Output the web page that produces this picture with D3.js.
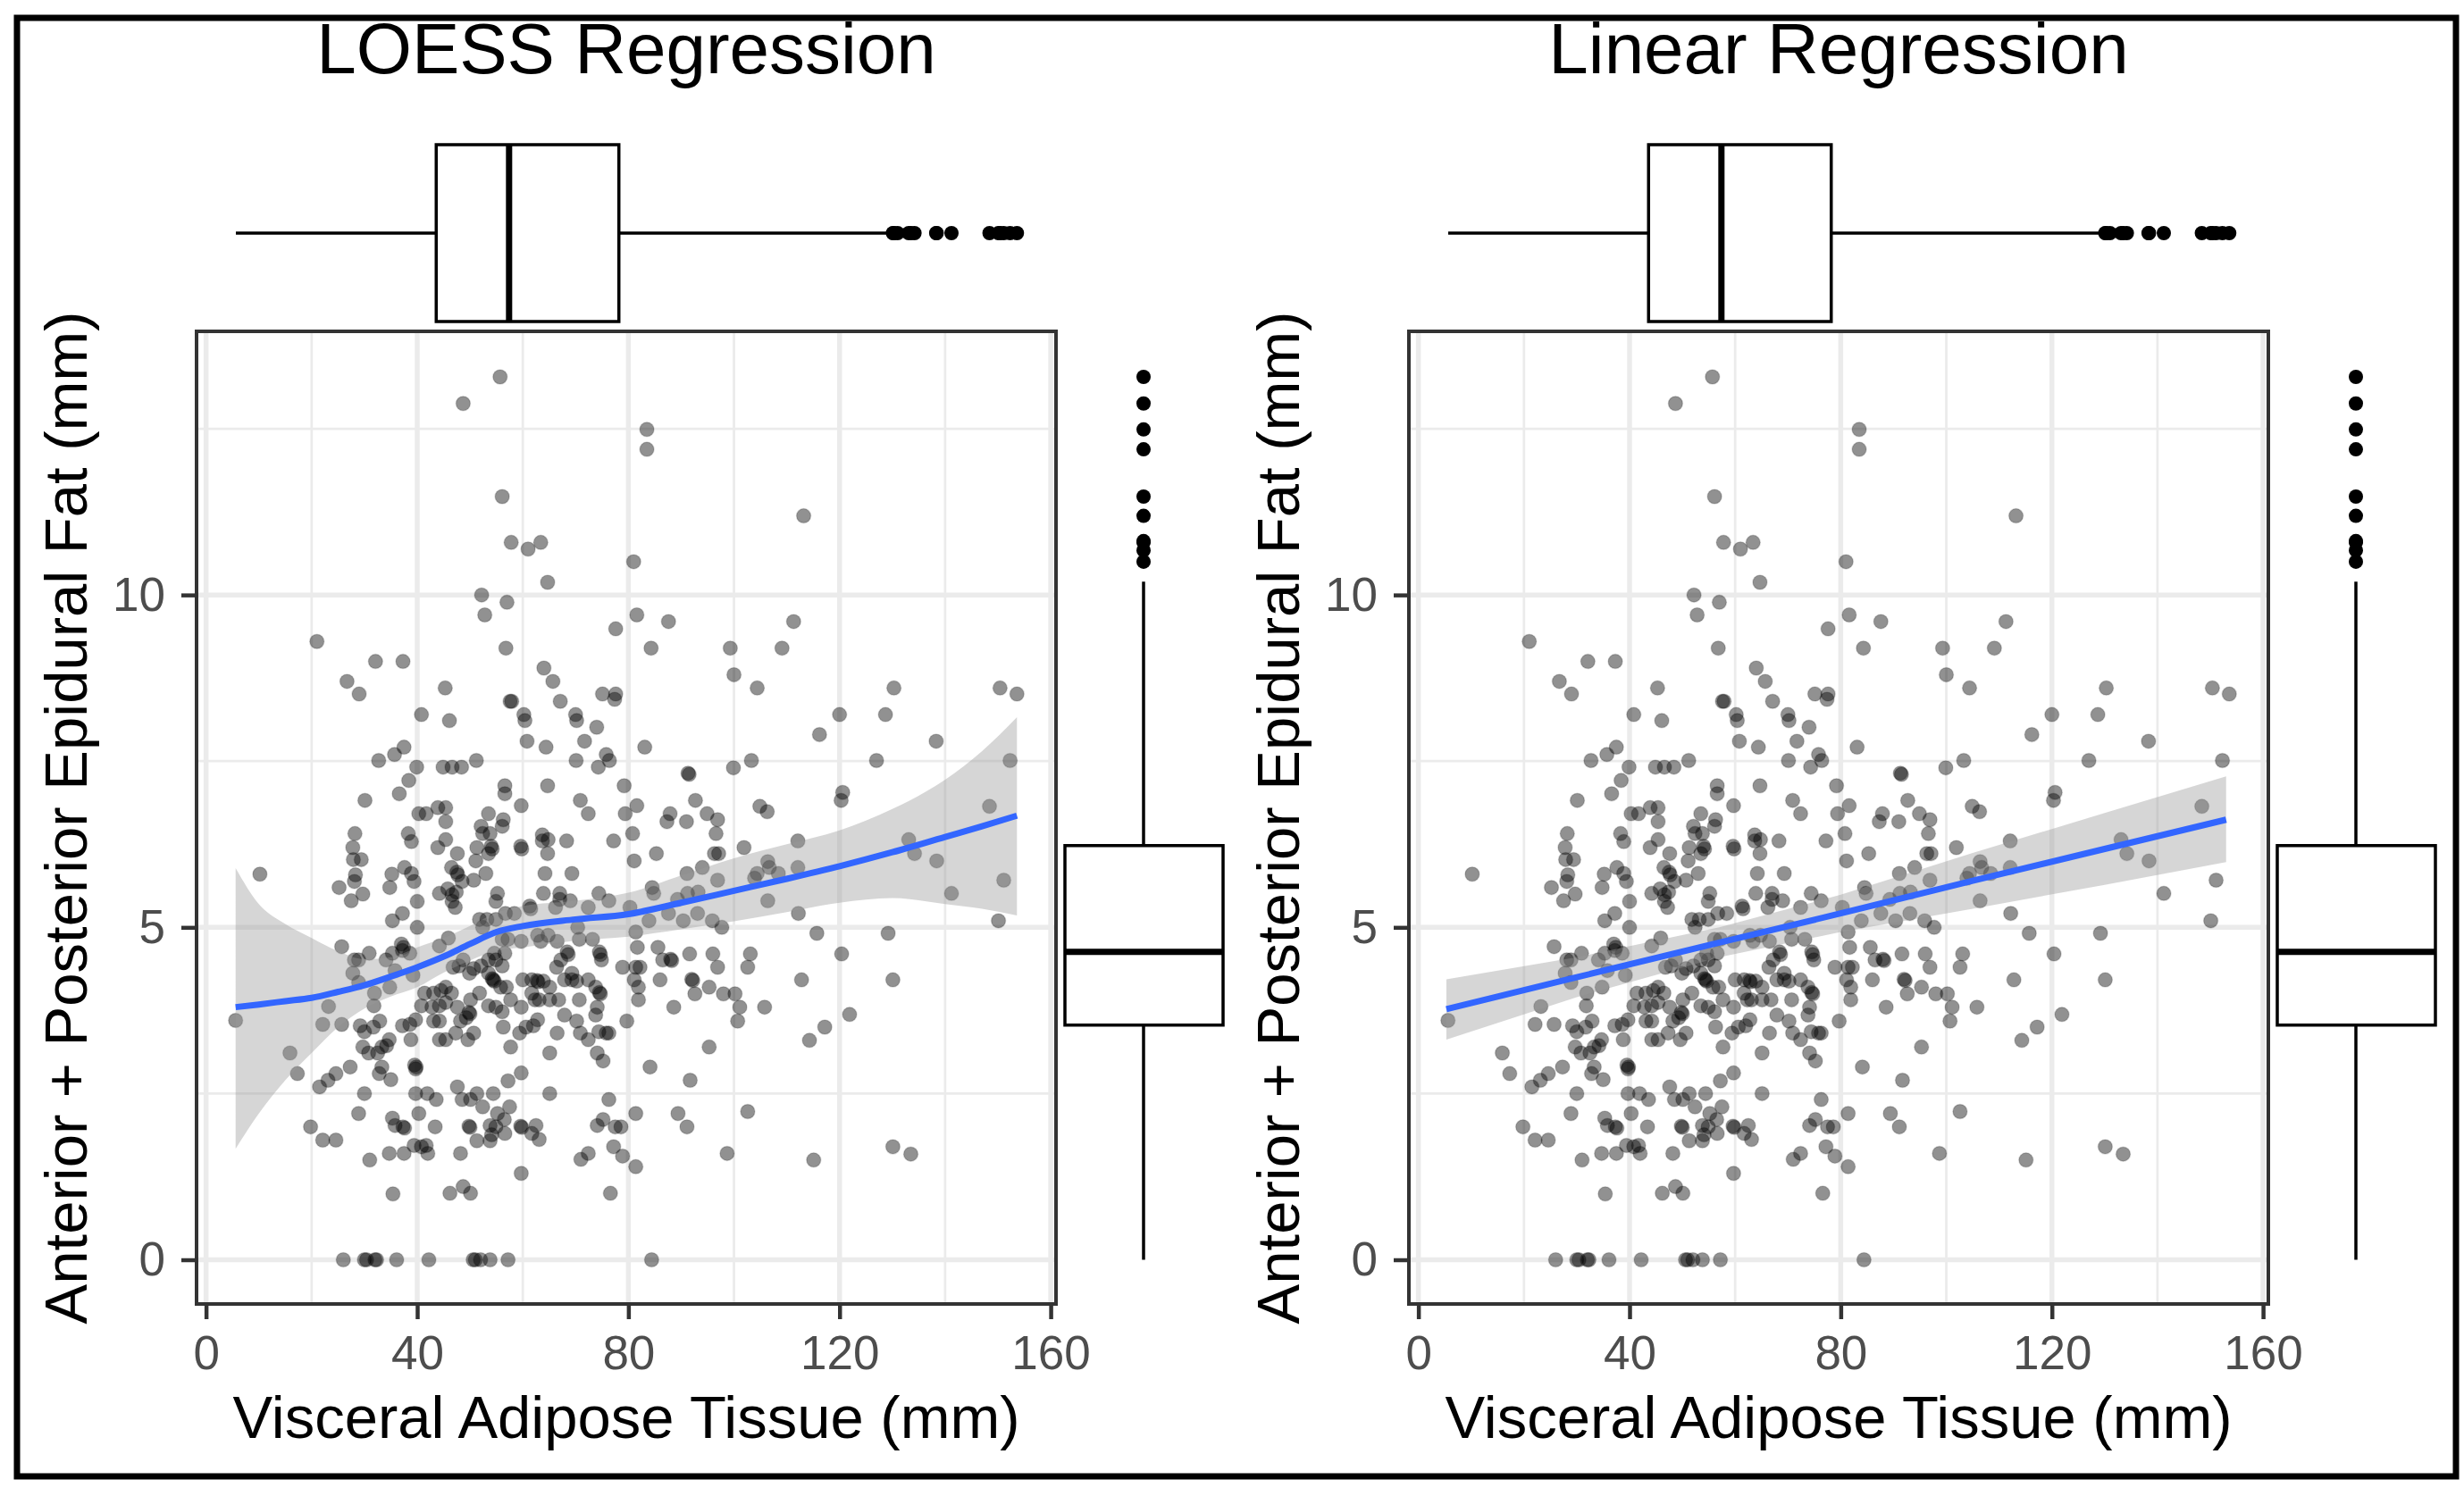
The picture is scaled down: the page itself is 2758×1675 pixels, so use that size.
<!DOCTYPE html>
<html>
<head>
<meta charset="utf-8">
<script src="https://d3js.org/d3.v7.min.js"></script>
<style>
  body { margin: 0; background: #fff; }
  text { font-family: "Liberation Sans", Arial, sans-serif; }
</style>
</head>
<body>
<div id="chart-area"></div>
<script>
// [visceral adipose tissue, epidural fat]
var points = [
  [55.7,13.28],[48.7,12.88],[56.1,11.48],[57.8,10.79],[61.0,10.69],[63.4,10.79],[64.7,10.19],[52.2,10.0],
  [57.0,9.89],[52.8,9.70],[77.6,9.49],[21.0,9.30],[56.8,9.20],[32.1,9.00],[37.3,9.00],[64.0,8.90],
  [26.7,8.70],[65.7,8.70],[29.0,8.51],[75.1,8.51],[77.6,8.51],[77.4,8.43],[45.3,8.60],[57.6,8.40],
  [57.9,8.40],[67.1,8.40],[40.8,8.20],[46.1,8.11],[60.2,8.20],[60.4,8.11],[70.0,8.20],[70.2,8.11],
  [74.0,8.01],[60.8,7.80],[71.7,7.80],[64.4,7.71],[37.5,7.71],[35.7,7.60],[32.7,7.51],[39.9,7.41],
  [44.9,7.41],[46.6,7.41],[48.4,7.41],[51.2,7.51],[70.1,7.51],[74.3,7.41],[75.8,7.60],[76.4,7.51],
  [38.4,7.21],[36.6,7.01],[30.1,6.91],[56.6,7.13],[56.6,7.01],[64.7,7.13],[79.2,7.13],[70.9,6.91],
  [59.7,6.83],[81.6,6.83],[81.0,10.50],[81.6,9.70],
  [83.5,12.49],[83.5,12.19],[113.2,11.19],[87.6,9.60],[84.3,9.20],[99.3,9.20],[109.1,9.20],[111.3,9.60],
  [100.0,8.80],[104.4,8.60],[130.3,8.60],[150.4,8.60],[153.6,8.51],[120.0,8.20],[128.7,8.20],[116.2,7.90],
  [138.3,7.80],[83.1,7.71],[91.3,7.32],[91.5,7.30],[99.9,7.40],[103.3,7.51],[127.0,7.51],[152.3,7.51],
  [92.7,6.91],[120.6,7.03],[120.3,6.91],[104.9,6.82],[106.3,6.74],[148.4,6.82],
  [28.2,6.41],[27.8,6.20],[27.9,6.02],[29.4,6.02],[28.3,5.79],[28.1,5.69],[25.2,5.60],[29.7,5.50],
  [27.5,5.40],[10.2,5.80],[35.2,5.80],[34.8,5.60],[38.3,6.41],[38.9,6.29],[37.6,5.90],[38.9,5.81],
  [39.4,5.69],[40.0,5.39],[37.2,5.21],[35.3,5.10],[40.0,5.0],
  [25.7,4.71],[30.9,4.61],[28.1,4.51],[28.9,4.51],[27.8,4.31],[34.1,4.51],[35.3,4.61],[37.0,4.75],
  [37.4,4.70],[37.2,4.65],[38.6,4.61],[35.8,4.35],[34.8,4.10],[28.9,4.17],[31.9,4.01],[31.8,3.82],
  [23.2,3.81],[5.6,3.60],[22.1,3.54],[25.7,3.54],[29.2,3.52],[30.0,3.43],[31.7,3.50],[32.9,3.59],
  [37.2,3.52],[38.6,3.54],[39.7,3.61],[38.8,3.31],[34.7,3.31],[34.2,3.22],[29.7,3.20],[30.8,3.11],
  [32.5,3.11],[33.3,3.20],[15.9,3.11],[17.3,2.80],[27.3,2.90],[24.6,2.80],[23.1,2.70],[21.5,2.60],
  [33.3,2.90],[32.8,2.80],[35.0,2.71],[39.5,2.93],[39.8,2.90],[39.7,2.87],[30.0,2.50],[39.7,2.50],
  [28.9,2.20],[40.3,2.20],[19.8,2.0],[35.3,2.13],[35.8,2.02],[37.3,2.0],[37.6,1.98],[22.1,1.80],
  [24.6,1.80],[31.0,1.50],[34.7,1.60],[37.5,1.60],[39.4,1.72],[40.8,1.70],[35.4,0.99],
  [40.3,6.71],[41.7,6.71],[43.9,6.80],[45.4,6.80],[45.4,6.59],[53.5,6.71],[52.1,6.52],[56.3,6.62],
  [56.1,6.52],[72.4,6.71],[79.4,6.71],
  [43.9,6.20],[45.4,6.32],[47.6,6.11],[51.3,6.20],[52.4,6.41],[53.8,6.41],[54.0,6.22],[54.2,6.18],
  [53.5,6.11],[51.1,6.00],[59.6,6.22],[59.8,6.18],[63.7,6.39],[64.8,6.32],[63.7,6.30],[64.7,6.11],
  [68.3,6.30],[77.2,6.30],[80.8,6.41],[81.1,6.00],
  [46.5,5.90],[47.5,5.83],[47.7,5.79],[48.5,5.69],[50.7,5.71],[53.0,5.81],[64.2,5.81],[69.3,5.81],
  [44.2,5.51],[45.8,5.58],[46.6,5.49],[47.4,5.53],[46.6,5.39],[47.2,5.30],[55.2,5.51],[54.9,5.39],
  [63.9,5.51],[67.0,5.51],[67.0,5.42],[69.0,5.40],[74.4,5.51],[76.3,5.40],[61.3,5.32],[61.5,5.28],
  [66.2,5.30],[72.4,5.30],[80.3,5.30],
  [51.8,5.12],[53.2,5.12],[54.9,5.12],[56.7,5.21],[58.4,5.21],[52.4,5.00],[70.4,5.00],[81.4,4.93],
  [45.9,4.84],[44.2,4.72],[56.1,4.82],[57.2,4.82],[59.7,4.79],[62.8,4.88],[63.4,4.79],[64.8,4.88],
  [66.5,4.79],[70.7,4.82],[73.2,4.82],
  [54.6,4.61],[53.5,4.51],[54.9,4.51],[56.6,4.61],[68.4,4.63],[68.6,4.59],[74.5,4.63],[74.7,4.59],
  [67.2,4.51],[66.4,4.40],[78.9,4.40],[81.4,4.40],
  [46.8,4.40],[47.9,4.42],[48.7,4.51],[49.9,4.31],[50.7,4.38],[39.2,4.28],[52.1,4.42],[53.5,4.31],
  [56.1,4.42],[69.3,4.31],[74.9,4.51],
  [54.2,4.23],[54.4,4.21],[54.6,4.19],[55.8,4.10],[56.9,4.10],[60.0,4.21],[61.7,4.21],[62.7,4.20],
  [62.9,4.18],[63.9,4.19],[65.1,4.10],[67.9,4.21],[69.3,4.21],[70.2,4.19],[72.4,4.21],[73.8,4.10],
  [74.5,4.02],[74.7,4.00],[81.1,4.21],[81.9,4.10],
  [41.4,4.01],[43.1,4.01],[44.5,4.05],[45.4,4.10],[46.5,4.01],[40.8,3.82],[42.8,3.80],[44.2,3.82],
  [45.4,3.87],[47.6,3.80],[50.1,3.91],[51.8,4.01],
  [57.7,3.91],[59.7,3.80],[61.7,4.01],[62.3,3.91],[63.1,3.91],[65.1,3.91],[66.8,3.91],[70.7,3.91],
  [53.5,3.82],[54.9,3.80],[56.1,3.73],[74.1,3.80],[73.8,3.68],[81.9,3.91],
  [49.8,3.72],[50.0,3.70],[43.1,3.59],[44.2,3.59],[48.2,3.59],[49.3,3.64],[67.9,3.68],[70.2,3.59],
  [79.7,3.59],
  [56.3,3.50],[59.4,3.41],[60.6,3.50],[62.0,3.52],[62.8,3.61],[44.2,3.31],[45.4,3.31],[47.3,3.41],
  [49.6,3.31],[50.7,3.41],[57.7,3.20],[66.5,3.41],[70.9,3.41],[72.4,3.31],[74.4,3.43],[75.8,3.41],
  [76.3,3.41],
  [65.1,3.11],[74.1,3.11],[75.2,2.99],[57.2,2.69],[59.7,2.81],[47.6,2.60],[41.9,2.50],[43.6,2.41],
  [48.5,2.41],[50.1,2.41],[51.3,2.50],[52.4,2.30],[54.4,2.50],[65.1,2.50],[76.3,2.41],
  [55.2,2.20],[56.5,2.11],[57.5,2.30],[43.4,2.00],[49.8,2.01],[50.0,1.99],[53.8,2.02],[54.9,2.00],
  [54.1,1.88],[56.6,1.90],[59.6,2.01],[59.8,1.99],[62.5,2.02],[61.7,1.90],[63.1,1.81],[74.1,2.02],
  [75.2,2.11],[77.5,2.00],[78.6,2.00],[81.4,2.20],
  [51.3,1.79],[53.8,1.79],[41.7,1.72],[42.0,1.60],[48.2,1.60],[71.0,1.51],[72.4,1.60],[77.2,1.70],
  [78.9,1.56],[81.4,1.40],[59.7,1.30],[46.2,1.00],[48.7,1.10],[50.1,1.00],[76.6,1.00],
  [87.9,6.71],[87.3,6.59],[91.0,6.59],[94.9,6.71],[96.9,6.62],[96.6,6.41],[85.3,6.11],[96.3,6.11],
  [97.1,6.11],[101.9,6.20],[112.1,6.30],[94.0,5.90],[91.1,5.81],[106.4,5.99],[106.7,5.90],[104.4,5.81],
  [103.9,5.74],[108.4,5.81],[112.1,5.90],[133.1,6.32],[134.2,6.11],[138.4,6.0],[151.1,5.71],[141.2,5.51],
  [96.9,5.71],[84.5,5.60],[84.8,5.51],[89.3,5.42],[91.2,5.51],[93.2,5.53],[106.4,5.40],[87.6,5.21],
  [93.1,5.21],[83.9,5.10],[90.4,5.10],[95.9,5.10],[112.2,5.21],[150.1,5.10],[97.7,5.00],[115.7,4.91],
  [129.2,4.91],[81.7,4.70],[85.6,4.70],[91.6,4.60],[96.0,4.60],[103.1,4.60],[120.4,4.60],[86.5,4.51],
  [88.0,4.52],[88.2,4.50],[82.2,4.40],[96.9,4.40],[102.6,4.40],[86.0,4.21],[92.0,4.22],[92.2,4.20],
  [112.8,4.21],[130.1,4.21],[95.3,4.10],[92.6,4.00],[98.0,4.00],[100.2,4.00],[88.6,3.80],[101.1,3.80],
  [105.8,3.80],[121.9,3.69],[100.7,3.59],[117.2,3.50],[114.3,3.30],[95.3,3.20],[84.1,2.90],[91.7,2.70],
  [89.4,2.20],[91.1,2.00],[102.6,2.23],[98.7,1.60],[115.1,1.50],[130.1,1.70],[133.5,1.59],
  [26.0,0],[30.0,0],[30.4,0],[32.0,0],[32.3,0],[36.1,0],[42.2,0],[50.6,0],[51.0,0],[52.0,0],
  [53.8,0],[57.2,0],[84.4,0]
];

// marginal boxplots: [lower whisker, Q1, median, Q3, upper whisker]
var vatStats = [5.65, 43.6, 57.4, 78.2, 129.4];
var vatOutliers = [130.1, 130.3, 131.0, 133.1, 133.5, 134.2, 138.3, 138.4, 141.2, 148.4, 150.1, 150.4, 151.1, 152.3, 153.6];
var fatStats = [0, 3.53, 4.63, 6.23, 10.2];
var fatOutliers = [10.5, 10.67, 10.79, 10.81, 11.19, 11.48, 12.19, 12.49, 12.88, 13.28];

// smoother fits
var loessX   = [5.6, 10, 15, 20, 25, 30, 35, 40, 45, 50, 55, 60, 70, 80, 90, 100, 110, 120, 130, 140, 147, 153.6];
var loessFit = [3.80, 3.84, 3.89, 3.94, 4.03, 4.13, 4.26, 4.40, 4.56, 4.75, 4.93, 5.02, 5.12, 5.20, 5.37, 5.55, 5.73, 5.92, 6.13, 6.36, 6.52, 6.68];
var loessLo  = [1.67, 2.20, 2.70, 3.11, 3.50, 3.78, 3.96, 4.10, 4.32, 4.50, 4.65, 4.70, 4.80, 4.86, 4.97, 5.09, 5.23, 5.37, 5.44, 5.35, 5.28, 5.18];
var loessHi  = [5.89, 5.35, 5.05, 4.84, 4.64, 4.52, 4.55, 4.70, 4.84, 5.02, 5.22, 5.32, 5.40, 5.52, 5.78, 6.04, 6.25, 6.46, 6.78, 7.22, 7.65, 8.16];

var linX   = [5.3, 30, 57, 80, 105, 130, 153];
var linFit = [3.77, 4.25, 4.77, 5.21, 5.70, 6.18, 6.62];
var linLo  = [3.31, 3.95, 4.55, 4.93, 5.28, 5.64, 5.98];
var linHi  = [4.22, 4.55, 5.00, 5.49, 6.12, 6.72, 7.27];

var xTicks = [0, 40, 80, 120, 160];
var xMinor = [20, 60, 100, 140];
var yTicks = [0, 5, 10];
var yMinor = [2.5, 7.5, 12.5];

var titles = ["LOESS Regression", "Linear Regression"];
var xTitle = "Visceral Adipose Tissue (mm)";
var yTitle = "Anterior + Posterior Epidural Fat (mm)";

var svg = d3.select("#chart-area")
    .append("svg")
        .attr("width", 2758)
        .attr("height", 1675);

svg.append("rect")
    .attr("x", 19).attr("y", 20)
    .attr("width", 2730).attr("height", 1633)
    .attr("fill", "none")
    .attr("stroke", "black")
    .attr("stroke-width", 7);

var panels = [
    { title: titles[0], dx: 0,    fx: loessX, fit: loessFit, lo: loessLo, hi: loessHi, curve: d3.curveMonotoneX },
    { title: titles[1], dx: 1357, fx: linX,   fit: linFit,   lo: linLo,   hi: linHi,   curve: d3.curveLinear }
];

var pLeft = 220, pRight = 1182, pTop = 371, pBottom = 1460;

panels.forEach(function(p) {
    var g = svg.append("g")
        .attr("transform", "translate(" + p.dx + ", 0)");

    var xScale = d3.scaleLinear().domain([-1.8, 161]).range([pLeft, pRight]);
    var yScale = d3.scaleLinear().domain([-0.665, 13.965]).range([pBottom, pTop]);

    // grid
    g.selectAll(".xminor").data(xMinor).enter().append("line")
        .attr("x1", function(d) { return xScale(d); }).attr("x2", function(d) { return xScale(d); })
        .attr("y1", pTop).attr("y2", pBottom)
        .attr("stroke", "#ebebeb").attr("stroke-width", 2.75);
    g.selectAll(".yminor").data(yMinor).enter().append("line")
        .attr("y1", function(d) { return yScale(d); }).attr("y2", function(d) { return yScale(d); })
        .attr("x1", pLeft).attr("x2", pRight)
        .attr("stroke", "#ebebeb").attr("stroke-width", 2.75);
    g.selectAll(".xmajor").data(xTicks).enter().append("line")
        .attr("x1", function(d) { return xScale(d); }).attr("x2", function(d) { return xScale(d); })
        .attr("y1", pTop).attr("y2", pBottom)
        .attr("stroke", "#ebebeb").attr("stroke-width", 5.5);
    g.selectAll(".ymajor").data(yTicks).enter().append("line")
        .attr("y1", function(d) { return yScale(d); }).attr("y2", function(d) { return yScale(d); })
        .attr("x1", pLeft).attr("x2", pRight)
        .attr("stroke", "#ebebeb").attr("stroke-width", 5.5);

    // points
    g.selectAll(".pt").data(points).enter().append("circle")
        .attr("cx", function(d) { return xScale(d[0]); })
        .attr("cy", function(d) { return yScale(d[1]); })
        .attr("r", 8)
        .attr("fill", "black")
        .attr("fill-opacity", 0.43)
        .attr("stroke", "black")
        .attr("stroke-opacity", 0.15)
        .attr("stroke-width", 1.5);

    // confidence band + fitted line
    var band = d3.area()
        .x(function(d, i) { return xScale(p.fx[i]); })
        .y0(function(d, i) { return yScale(p.lo[i]); })
        .y1(function(d, i) { return yScale(p.hi[i]); })
        .curve(p.curve);
    g.append("path")
        .attr("d", band(p.fx))
        .attr("fill", "#999999")
        .attr("fill-opacity", 0.4);

    var line = d3.line()
        .x(function(d, i) { return xScale(p.fx[i]); })
        .y(function(d, i) { return yScale(p.fit[i]); })
        .curve(p.curve);
    g.append("path")
        .attr("d", line(p.fx))
        .attr("fill", "none")
        .attr("stroke", "#3366FF")
        .attr("stroke-width", 7);

    // panel border
    g.append("rect")
        .attr("x", pLeft).attr("y", pTop)
        .attr("width", pRight - pLeft).attr("height", pBottom - pTop)
        .attr("fill", "none").attr("stroke", "#333333").attr("stroke-width", 4);

    // axes
    var xAxis = g.append("g")
        .attr("transform", "translate(0, " + pBottom + ")")
        .call(d3.axisBottom(xScale).tickValues(xTicks).tickSize(17).tickPadding(18));
    var yAxis = g.append("g")
        .attr("transform", "translate(" + pLeft + ", 0)")
        .call(d3.axisLeft(yScale).tickValues(yTicks).tickSize(17).tickPadding(18));
    [xAxis, yAxis].forEach(function(a) {
        a.select(".domain").remove();
        a.selectAll("line").attr("stroke", "#333333").attr("stroke-width", 4.5);
        a.selectAll("text")
            .attr("font-size", "53px")
            .attr("font-family", "Liberation Sans, Arial, sans-serif")
            .attr("fill", "#4d4d4d");
    });

    g.append("text")
        .attr("x", (pLeft + pRight) / 2)
        .attr("y", 1610)
        .attr("font-size", "67px")
        .attr("text-anchor", "middle")
        .text(xTitle);

    g.append("text")
        .attr("x", -(pTop + pBottom) / 2)
        .attr("y", 97)
        .attr("font-size", "67px")
        .attr("text-anchor", "middle")
        .attr("transform", "rotate(-90)")
        .text(yTitle);

    g.append("text")
        .attr("x", (pLeft + pRight) / 2)
        .attr("y", 82)
        .attr("font-size", "80px")
        .attr("text-anchor", "middle")
        .text(p.title);

    // top marginal boxplot
    var by0 = 162, by1 = 360, bym = 261;
    g.append("line")
        .attr("x1", xScale(vatStats[0])).attr("x2", xScale(vatStats[1]))
        .attr("y1", bym).attr("y2", bym)
        .attr("stroke", "black").attr("stroke-width", 3.5);
    g.append("line")
        .attr("x1", xScale(vatStats[3])).attr("x2", xScale(vatStats[4]))
        .attr("y1", bym).attr("y2", bym)
        .attr("stroke", "black").attr("stroke-width", 3.5);
    g.append("rect")
        .attr("x", xScale(vatStats[1])).attr("y", by0)
        .attr("width", xScale(vatStats[3]) - xScale(vatStats[1]))
        .attr("height", by1 - by0)
        .attr("fill", "white").attr("stroke", "black").attr("stroke-width", 3.5);
    g.append("line")
        .attr("x1", xScale(vatStats[2])).attr("x2", xScale(vatStats[2]))
        .attr("y1", by0).attr("y2", by1)
        .attr("stroke", "black").attr("stroke-width", 7);
    g.selectAll(".vout").data(vatOutliers).enter().append("circle")
        .attr("cx", function(d) { return xScale(d); })
        .attr("cy", bym)
        .attr("r", 8)
        .attr("fill", "black");

    // right marginal boxplot
    var bx0 = 1192, bx1 = 1369, bxm = 1280;
    g.append("line")
        .attr("x1", bxm).attr("x2", bxm)
        .attr("y1", yScale(fatStats[0])).attr("y2", yScale(fatStats[1]))
        .attr("stroke", "black").attr("stroke-width", 3.5);
    g.append("line")
        .attr("x1", bxm).attr("x2", bxm)
        .attr("y1", yScale(fatStats[3])).attr("y2", yScale(fatStats[4]))
        .attr("stroke", "black").attr("stroke-width", 3.5);
    g.append("rect")
        .attr("x", bx0).attr("y", yScale(fatStats[3]))
        .attr("width", bx1 - bx0)
        .attr("height", yScale(fatStats[1]) - yScale(fatStats[3]))
        .attr("fill", "white").attr("stroke", "black").attr("stroke-width", 3.5);
    g.append("line")
        .attr("x1", bx0).attr("x2", bx1)
        .attr("y1", yScale(fatStats[2])).attr("y2", yScale(fatStats[2]))
        .attr("stroke", "black").attr("stroke-width", 7);
    g.selectAll(".fout").data(fatOutliers).enter().append("circle")
        .attr("cx", bxm)
        .attr("cy", function(d) { return yScale(d); })
        .attr("r", 8)
        .attr("fill", "black");
});
</script>
</body>
</html>
